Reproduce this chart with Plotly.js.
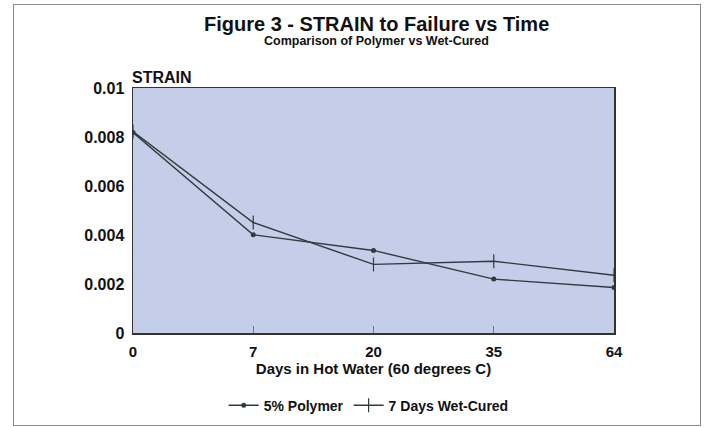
<!DOCTYPE html>
<html>
<head>
<meta charset="utf-8">
<script src="https://cdn.plot.ly/plotly-3.0.1.min.js"></script>
<style>
html,body{margin:0;padding:0;background:#fff;}
#wrap{position:relative;width:704px;height:427px;}
#chart{position:absolute;left:0;top:0;width:704px;height:427px;}
#frame{position:absolute;left:13px;top:4px;width:686px;height:420px;border:1.5px solid #8a8a8a;pointer-events:none;}
</style>
</head>
<body>
<div id="wrap"><div id="chart"></div><div id="frame"></div></div>
<script>
const categories = ["0", "7", "20", "35", "64"];
const polymer = [0.00818, 0.00401, 0.00337, 0.00220, 0.00186];
const wetCured = [0.00822, 0.00451, 0.00280, 0.00293, 0.00236];
const yTickVals = [0, 0.002, 0.004, 0.006, 0.008, 0.01];
const yTickText = ["0", "0.002", "0.004", "0.006", "0.008", "0.01"];
const seriesNames = ["5% Polymer", "7 Days Wet-Cured"];

const idx = categories.map((c, i) => i);
const lineColor = "#2e3c3e";
const font = "Liberation Sans, Arial, Helvetica, sans-serif";

const traces = [
  {x: idx, y: polymer, name: "<b>" + seriesNames[0] + "</b>", type: "scatter", mode: "lines+markers",
   line: {color: lineColor, width: 1.4},
   marker: {symbol: "circle", size: 5, color: lineColor}},
  {x: idx, y: wetCured, name: "<b>" + seriesNames[1] + "</b>", type: "scatter", mode: "lines+markers",
   line: {color: lineColor, width: 1.4},
   marker: {symbol: "line-ns-open", size: 10, line: {color: lineColor, width: 1.2}}}
];

const layout = {
  width: 704, height: 427,
  margin: {l: 133, r: 90, t: 88, b: 94},
  paper_bgcolor: "#ffffff",
  plot_bgcolor: "#c5cee8",
  font: {family: font, color: "#111", size: 14},
  xaxis: {
    range: [0, categories.length - 1],
    tickvals: idx, ticktext: categories.map(c => "<b>" + c + "</b>"),
    tickfont: {family: font, size: 15, color: "#111"},
    ticks: "inside", ticklen: 7, tickcolor: "#777", tickwidth: 1,
    ticklabelstandoff: 4, automargin: false,
    showgrid: false, zeroline: false,
    showline: true, linecolor: "#333", linewidth: 1.5, mirror: true,
    title: {text: "<b>Days in Hot Water (60 degrees C)</b>", font: {family: font, size: 15, color: "#111"}, standoff: 3},
    fixedrange: true
  },
  yaxis: {
    range: [0, 0.01],
    tickvals: yTickVals, ticktext: yTickText.map(t => "<b>" + t + "</b>"),
    tickfont: {family: font, size: 16, color: "#111"},
    ticks: "", ticklabelstandoff: 4, automargin: false,
    showgrid: false, zeroline: false,
    showline: true, linecolor: "#333", linewidth: 1.5, mirror: true,
    fixedrange: true
  },
  showlegend: true,
  legend: {
    orientation: "h", x: 0.49, xanchor: "center",
    yref: "container", y: 0.05, yanchor: "middle",
    font: {family: font, size: 14, color: "#111"},
    bgcolor: "rgba(0,0,0,0)", itemwidth: 30, tracegroupgap: 0
  },
  annotations: [
    {text: "<b>Figure 3 - STRAIN to Failure vs Time</b>", xref: "paper", yref: "paper",
     x: 0.5, y: 1, yshift: 64, xshift: 3, xanchor: "center", yanchor: "middle", showarrow: false,
     font: {family: font, size: 20, color: "#111"}},
    {text: "<b>Comparison of Polymer vs Wet-Cured</b>", xref: "paper", yref: "paper",
     x: 0.5, y: 1, yshift: 47, xshift: 3, xanchor: "center", yanchor: "middle", showarrow: false,
     font: {family: font, size: 12.5, color: "#111"}},
    {text: "<b>STRAIN</b>", xref: "paper", yref: "paper", x: 0, y: 1, xanchor: "left", yanchor: "bottom",
     showarrow: false, font: {family: font, size: 16, color: "#111"}, yshift: 0, xshift: -3}
  ]
};

Plotly.newPlot("chart", traces, layout, {displayModeBar: false, staticPlot: true});
</script>
</body>
</html>
